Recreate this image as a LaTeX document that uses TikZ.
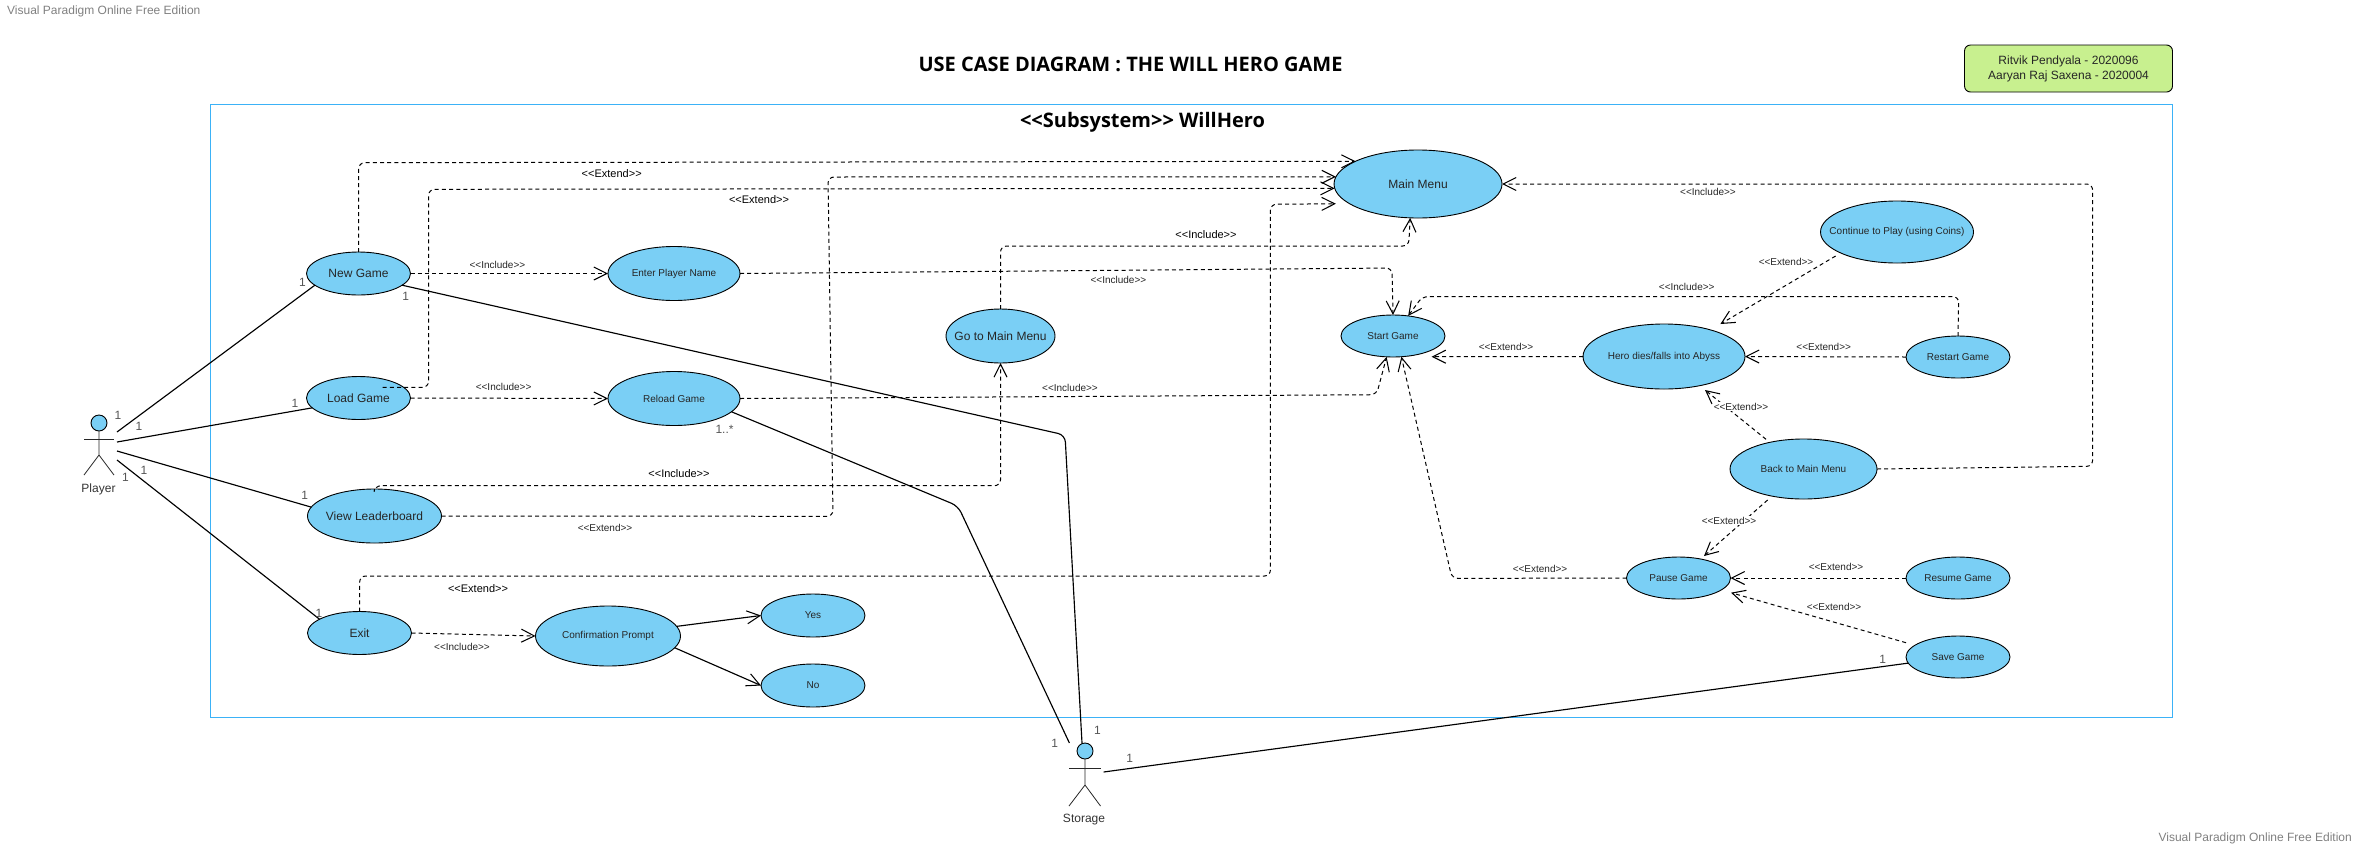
\documentclass[tikz,border=0pt]{standalone}
\usepackage{fontspec}
\setmainfont{Liberation Sans}
\newfontfamily\titlefont{Open Sans}
\usetikzlibrary{shapes.geometric,arrows.meta}
\definecolor{vpblue}{HTML}{7ACFF5}
\definecolor{vpframe}{HTML}{3BB2F7}
\definecolor{vpnote}{HTML}{C8F08F}
\definecolor{vpgrey}{HTML}{555555}
\tikzset{
  uc/.style 2 args={ellipse,draw=black,fill=vpblue,line width=.9pt,inner sep=-30pt,outer sep=0pt,
    minimum width=#1pt,minimum height=#2pt,text=black!85,font=\fontsize{10}{12}\selectfont},
  big/.style={font=\fontsize{12}{14}\selectfont},
  head/.style={ellipse,draw=black,fill=vpblue,line width=.9pt,inner sep=0pt,outer sep=0pt,minimum width=16pt,minimum height=16pt},
  limb/.style={line width=.8pt,draw=black!85},
  assoc/.style={line width=1.15pt,rounded corners=7pt,line cap=butt},
  openarrow/.style={-{Straight Barb[length=13pt,width=13pt,line width=1.05pt]}},
  dep/.style={line width=1pt,dash pattern=on 4pt off 3.2pt,rounded corners=6pt,openarrow},
  flow/.style={line width=1.15pt,openarrow},
  inc/.style={font=\fontsize{10}{12}\selectfont,text=black!85,inner sep=1pt},
  ext/.style={font=\fontsize{11}{13}\selectfont,text=black,inner sep=1pt},
  mult/.style={font=\fontsize{12}{14}\selectfont,text=vpgrey,inner sep=0pt},
  water/.style={font=\fontsize{12}{14}\selectfont,text=black!50,inner sep=0pt},
}
\begin{document}
\begin{tikzpicture}[x=1pt,y=-1pt]
\useasboundingbox (0,0) rectangle (2358,847);

\node[water,anchor=west] (wm1) at (7,11.5) {Visual Paradigm Online Free Edition};
\node[water,anchor=east] (wm2) at (2352,838) {Visual Paradigm Online Free Edition};
\node[font=\titlefont\bfseries\fontsize{20}{24}\selectfont,inner sep=0pt] (title) at (1130.5,64.5) {USE CASE DIAGRAM : THE WILL HERO GAME};
\node[draw=black,fill=vpnote,rounded corners=6pt,line width=.9pt,minimum width=208pt,minimum height=47pt,inner sep=0pt,align=center,
  font=\fontsize{12}{15}\selectfont,text=black!85] (note) at (2068.5,68.5) {Ritvik Pendyala - 2020096\\Aaryan Raj Saxena - 2020004};

\node[draw=vpframe,line width=1pt,minimum width=1962pt,minimum height=613pt,inner sep=0pt] (frame) at (1191,410.5) {};
\node[font=\titlefont\bfseries\fontsize{20}{24}\selectfont,inner sep=0pt] (subsys) at (1142.5,122) {<{}<Subsystem>{}> WillHero};

% use cases
\node[uc={104}{43},big] (newgame) at (358.5,273.5) {New Game};
\node[uc={104}{43},big] (loadgame) at (358.5,398) {Load Game};
\node[uc={134}{54},big] (leader) at (374.5,516) {View Leaderboard};
\node[uc={104}{43},big] (exit) at (359.5,633) {Exit};
\node[uc={132}{54}] (enter) at (674,273.5) {Enter Player Name};
\node[uc={132}{54}] (reload) at (674,398.5) {Reload Game};
\node[uc={145}{60}] (confirm) at (608,636) {Confirmation Prompt};
\node[uc={104}{43}] (yes) at (813,615.5) {Yes};
\node[uc={104}{43}] (no) at (813,685.5) {No};
\node[uc={168}{68},big] (mainmenu) at (1418,184) {Main Menu};
\node[uc={109}{54},big] (gomain) at (1000.5,336) {Go to Main Menu};
\node[uc={104}{42}] (start) at (1393,336) {Start Game};
\node[uc={162}{65}] (hero) at (1664,356.5) {Hero dies/falls into Abyss};
\node[uc={153}{62}] (cont) at (1897,232) {Continue to Play (using Coins)};
\node[uc={104}{42}] (restart) at (1958,357) {Restart Game};
\node[uc={147}{60}] (back) at (1803.5,469) {Back to Main Menu};
\node[uc={104}{42}] (pause) at (1678.5,578) {Pause Game};
\node[uc={104}{42}] (resume) at (1958,578) {Resume Game};
\node[uc={104}{42}] (save) at (1958,657) {Save Game};

% actors
\node[head] (player) at (99,423) {};
\draw[limb] (player.south) -- (99,455) coordinate (pb) -- (84,475);
\draw[limb] (pb) -- (114,475);
\draw[limb] (84,439) -- (114,439);
\node[big,text=black!80,inner sep=0pt] (playerl) at (98.5,489) {Player};
\node[head] (storage) at (1085,751) {};
\draw[limb] (storage.south) -- (1085,785) coordinate (sb) -- (1069,806);
\draw[limb] (sb) -- (1100.5,806);
\draw[limb] (1069,768) -- (1100.5,768);
\node[big,text=black!80,inner sep=0pt] (storagel) at (1084,820) {Storage};

% free ends
\coordinate (pA) at (117,432);
\coordinate (pB) at (117,442);
\coordinate (pC) at (117,451);
\coordinate (pD) at (117,460);
\coordinate (sA) at (1082,743);
\coordinate (sB) at (1069.4,743);
\coordinate (sC) at (1103.6,772);
\coordinate (loadstart) at (382.6,387.3);
\coordinate (tipSG) at (1431.6,356.7);
\coordinate (tipHC) at (1720.4,324);
\coordinate (tipHB) at (1705,390);
\coordinate (tipPB) at (1704,556);
\coordinate (tipPS) at (1731,592.7);
\coordinate (saveS) at (1906,642.7);
\coordinate (contS) at (1835.6,256);
\coordinate (backS1) at (1766,439.3);
\coordinate (backS2) at (1767.6,500);

% associations
\draw[assoc] (pA) -- (newgame.195);
\draw[assoc] (pB) -- (loadgame.192);
\draw[assoc] (pC) -- (leader.172);
\draw[assoc] (pD) -- (exit.161.8);
\draw[assoc] (newgame.-15.9) -- (1065,435) -- (sA);
\draw[assoc] (reload.-13.8) -- (958,506) -- (sB);
\draw[assoc] (save.187.7) -- (sC);

% dependencies to Main Menu
\draw[dep] (newgame.north) -- (358.7,162.7) -- (mainmenu.160.7);
\draw[dep] (loadstart) -- (428.6,387.3) -- (428.6,189.3) -- (mainmenu.183.4);
\draw[dep] (leader.east) -- (833,516.3) -- (828,177) -- (mainmenu.175.3);
\draw[dep,shorten >=13.6pt] (exit.north) -- (359.7,576) -- (1270.4,576) -- (1270.4,204.3) -- (mainmenu.196.8);
\draw[dep] (gomain.north) -- (1000.5,246) -- (1408.7,246) -- (mainmenu.257.8);
\draw[dep] (back.east) -- (2092.6,466.3) -- (2092.6,184) -- (mainmenu.east);
\draw[dep] (leader.north) -- (375,485.7) -- (1000.5,485.7) -- (gomain.south);
% includes
\draw[dep] (newgame.east) -- (enter.west);
\draw[dep] (loadgame.east) -- (reload.west);
\draw[dep] (exit.east) -- (confirm.west);
\draw[dep] (enter.east) -- (1392,268) -- (start.north);
\draw[dep] (reload.east) -- (1376.5,394.7) -- (start.253.2);
% right part
\draw[dep] (hero.west) -- (tipSG);
\draw[dep] (restart.north) -- (1958.7,296.5) -- (1422.4,296.5) -- (start.53.3);
\draw[dep] (pause.west) -- (1452,578.4) -- (start.-68.9);
\draw[dep] (contS) -- (tipHC);
\draw[dep] (restart.west) -- (hero.east);
\draw[dep] (backS1) -- (tipHB);
\draw[dep] (backS2) -- (tipPB);
\draw[dep] (resume.west) -- (pause.east);
\draw[dep] (saveS) -- (tipPS);
% solid arrows
\draw[flow] (confirm.8.2) -- (yes.west);
\draw[flow] (confirm.-10.2) -- (no.west);

% dependency labels
\node[inc] (l1) at (497.4,264.7) {<{}<Include>{}>};
\node[inc] (l2) at (503.6,386.7) {<{}<Include>{}>};
\node[ext] (l3) at (611.7,173.3) {<{}<Extend>{}>};
\node[ext] (l4) at (759,199.3) {<{}<Extend>{}>};
\node[ext] (l5) at (679,473.3) {<{}<Include>{}>};
\node[inc] (l6) at (605,527.7) {<{}<Extend>{}>};
\node[ext] (l7) at (478,588.3) {<{}<Extend>{}>};
\node[inc] (l8) at (462,646.7) {<{}<Include>{}>};
\node[ext] (l9) at (1206,234.3) {<{}<Include>{}>};
\node[inc] (l10) at (1118.4,279.7) {<{}<Include>{}>};
\node[inc] (l11) at (1070,387.7) {<{}<Include>{}>};
\node[inc] (l12) at (1506,346.7) {<{}<Extend>{}>};
\node[inc] (l13) at (1540,569.3) {<{}<Extend>{}>};
\node[inc] (l14) at (1708,191.7) {<{}<Include>{}>};
\node[inc] (l15) at (1786,261.7) {<{}<Extend>{}>};
\node[inc] (l16) at (1686.7,286.7) {<{}<Include>{}>};
\node[inc] (l17) at (1823.7,346.7) {<{}<Extend>{}>};
\node[inc,fill=white] (l18) at (1741,406.7) {<{}<Extend>{}>};
\node[inc,fill=white] (l19) at (1729,520.7) {<{}<Extend>{}>};
\node[inc] (l20) at (1836,566.7) {<{}<Extend>{}>};
\node[inc] (l21) at (1834,606.7) {<{}<Extend>{}>};

% multiplicities
\node[mult] (m1) at (118,415) {1};
\node[mult] (m2) at (139,426) {1};
\node[mult] (m3) at (302.5,282) {1};
\node[mult] (m4) at (295,403) {1};
\node[mult] (m5) at (405.6,296) {1};
\node[mult] (m6) at (144,470) {1};
\node[mult] (m7) at (125.5,477) {1};
\node[mult] (m8) at (304.6,495) {1};
\node[mult] (m9) at (319,613) {1};
\node[mult] (m10) at (724.5,429) {1..*};
\node[mult] (m11) at (1054.6,743) {1};
\node[mult] (m12) at (1097.5,730) {1};
\node[mult] (m13) at (1129.6,758) {1};
\node[mult] (m14) at (1882.7,659) {1};
\end{tikzpicture}
\end{document}
